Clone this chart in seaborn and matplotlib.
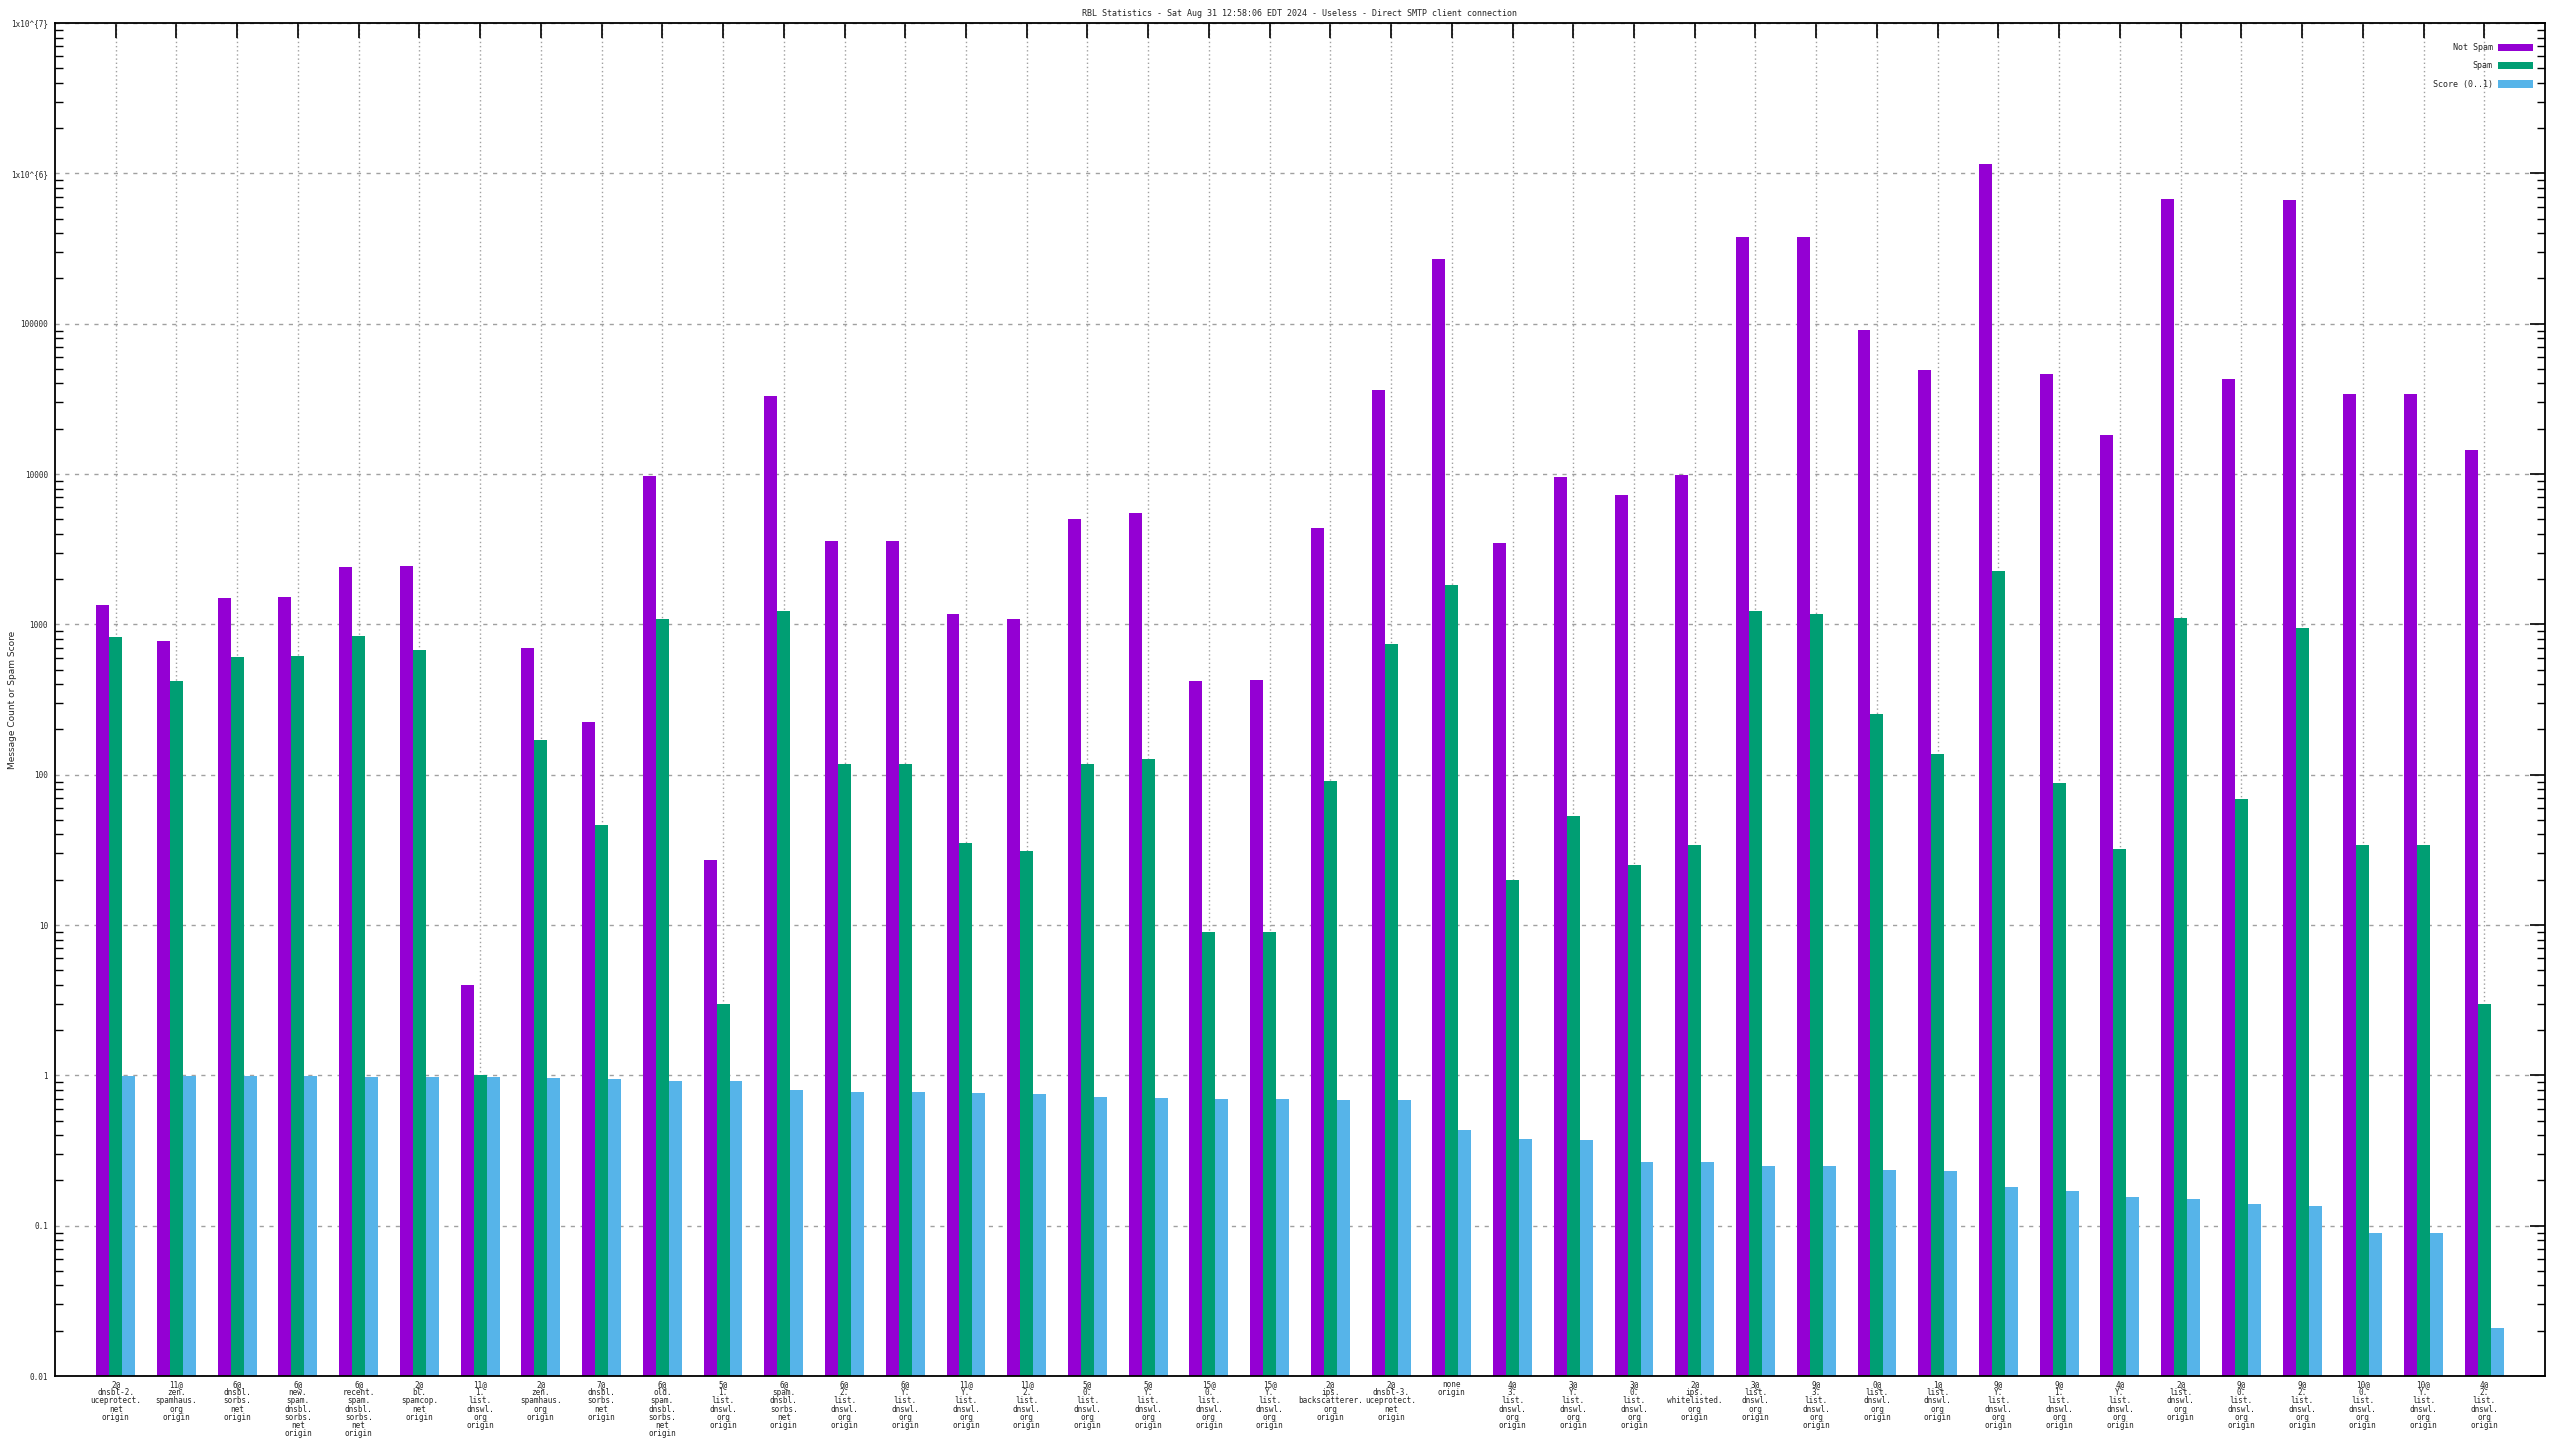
import numpy as np
import pandas as pd
import matplotlib
matplotlib.use("Agg")
import matplotlib.pyplot as plt
import seaborn as sns
from matplotlib.ticker import FixedLocator, LogLocator, NullFormatter

# ---------------- data ----------------
categories = [
    "2@\ndnsbl-2.\nuceprotect.\nnet\norigin",
    "11@\nzen.\nspamhaus.\norg\norigin",
    "6@\ndnsbl.\nsorbs.\nnet\norigin",
    "6@\nnew.\nspam.\ndnsbl.\nsorbs.\nnet\norigin",
    "6@\nrecent.\nspam.\ndnsbl.\nsorbs.\nnet\norigin",
    "2@\nbl.\nspamcop.\nnet\norigin",
    "11@\n1.\nlist.\ndnswl.\norg\norigin",
    "2@\nzen.\nspamhaus.\norg\norigin",
    "7@\ndnsbl.\nsorbs.\nnet\norigin",
    "6@\nold.\nspam.\ndnsbl.\nsorbs.\nnet\norigin",
    "5@\n1.\nlist.\ndnswl.\norg\norigin",
    "6@\nspam.\ndnsbl.\nsorbs.\nnet\norigin",
    "6@\n2.\nlist.\ndnswl.\norg\norigin",
    "6@\nY.\nlist.\ndnswl.\norg\norigin",
    "11@\nY.\nlist.\ndnswl.\norg\norigin",
    "11@\n2.\nlist.\ndnswl.\norg\norigin",
    "5@\n0.\nlist.\ndnswl.\norg\norigin",
    "5@\nY.\nlist.\ndnswl.\norg\norigin",
    "15@\n0.\nlist.\ndnswl.\norg\norigin",
    "15@\nY.\nlist.\ndnswl.\norg\norigin",
    "2@\nips.\nbackscatterer.\norg\norigin",
    "2@\ndnsbl-3.\nuceprotect.\nnet\norigin",
    "none\norigin",
    "4@\n3.\nlist.\ndnswl.\norg\norigin",
    "3@\nY.\nlist.\ndnswl.\norg\norigin",
    "3@\n0.\nlist.\ndnswl.\norg\norigin",
    "2@\nips.\nwhitelisted.\norg\norigin",
    "3@\nlist.\ndnswl.\norg\norigin",
    "9@\n3.\nlist.\ndnswl.\norg\norigin",
    "0@\nlist.\ndnswl.\norg\norigin",
    "1@\nlist.\ndnswl.\norg\norigin",
    "9@\nY.\nlist.\ndnswl.\norg\norigin",
    "9@\n1.\nlist.\ndnswl.\norg\norigin",
    "4@\nY.\nlist.\ndnswl.\norg\norigin",
    "2@\nlist.\ndnswl.\norg\norigin",
    "9@\n0.\nlist.\ndnswl.\norg\norigin",
    "9@\n2.\nlist.\ndnswl.\norg\norigin",
    "10@\n0.\nlist.\ndnswl.\norg\norigin",
    "10@\nY.\nlist.\ndnswl.\norg\norigin",
    "4@\n2.\nlist.\ndnswl.\norg\norigin",
]

not_spam = [1350, 780, 1500, 1530, 2400, 2450, 4, 700, 225, 9700,
            27, 33000, 3600, 3600, 1170, 1080, 5000, 5500, 420, 425,
            4400, 36000, 270000, 3500, 9600, 7300, 9900, 380000, 375000, 91000,
            49000, 1150000, 46000, 18300, 670000, 43000, 660000, 34000, 34000, 14500]

spam = [820, 420, 610, 620, 840, 670, 1.0, 170, 46, 1090,
        3.0, 1230, 118, 118, 35, 31, 118, 127, 9, 9,
        91, 740, 1830, 20, 53, 25, 34, 1220, 1170, 255,
        137, 2270, 88, 32, 1100, 69, 950, 34, 34, 3.0]

score = [0.99, 0.99, 0.99, 0.99, 0.98, 0.97, 0.97, 0.96, 0.95, 0.92,
         0.92, 0.80, 0.77, 0.77, 0.76, 0.75, 0.72, 0.71, 0.70, 0.70,
         0.69, 0.69, 0.43, 0.38, 0.37, 0.265, 0.265, 0.25, 0.25, 0.235,
         0.23, 0.18, 0.17, 0.155, 0.15, 0.14, 0.135, 0.09, 0.09, 0.021]

series_names = ["Not Spam", "Spam", "Score (0..1)"]
series_colors = ["#9400d3", "#009e73", "#56b4e9"]

y_tick_values = [0.01, 0.1, 1, 10, 100, 1000, 10000, 100000, 1e6, 1e7]
y_tick_labels = ["0.01", "0.1", "1", "10", "100", "1000", "10000", "100000",
                 "1x10^{6}", "1x10^{7}"]

title_text = "RBL Statistics - Sat Aug 31 12:58:06 EDT 2024 - Useless - Direct SMTP client connection"
ylabel_text = "Message Count or Spam Score"

# ---------------- frame ----------------
rows = []
for name, vals in zip(series_names, [not_spam, spam, score]):
    for cat, v in zip(categories, vals):
        rows.append({"label": cat, "series": name, "value": v})
df = pd.DataFrame(rows)

sns.set_theme(style="white")
plt.rcParams['font.family'] = ['DejaVu Sans Mono', 'DejaVu Sans']

W, H = 2560, 1440
fig = plt.figure(figsize=(W / 100, H / 100), dpi=100)
fig.patch.set_facecolor("white")
ax = fig.add_axes([55 / W, 1 - 1376 / H, 2490 / W, (1376 - 23) / H])

sns.barplot(data=df, x="label", y="value", hue="series", order=categories,
            hue_order=series_names, palette=series_colors, width=0.64,
            errorbar=None, log_scale=True, saturation=1, linewidth=0,
            ax=ax)

ax.set_yscale("log")
ax.set_ylim(0.01, 1e7)
ax.set_xlim(-1.0, 40.0)

ax.yaxis.set_major_locator(FixedLocator(y_tick_values))
ax.set_yticklabels(y_tick_labels)
ax.yaxis.set_minor_locator(LogLocator(base=10, subs=np.arange(2, 10)))
ax.yaxis.set_minor_formatter(NullFormatter())

ax.set_xlabel("")
ax.set_ylabel("")

ax.tick_params(axis="both", which="major", direction="in", length=11, width=1.2,
               labelsize=5.5, top=True, right=True, color="black")
ax.tick_params(axis="x", which="major", pad=3)
ax.tick_params(axis="y", which="minor", direction="in", length=5.5, width=1.0,
               right=True, left=True, color="black")
ax.tick_params(axis="y", which="major", pad=5)
for t in ax.get_xticklabels():
    t.set_linespacing(0.88)

ax.set_axisbelow(True)
ax.yaxis.grid(True, which="major", linestyle=(0, (3, 4)), color="#a0a0a0", lw=1.0)
ax.xaxis.grid(True, which="major", linestyle=(0, (1, 2)), color="#a0a0a0", lw=1.0)

for s in ax.spines.values():
    s.set_linewidth(1.3)
    s.set_color("black")

handles, labels = ax.get_legend_handles_labels()
ax.legend(handles, labels, loc="upper right",
          bbox_to_anchor=(2536 / W, 1 - 40 / H), bbox_transform=fig.transFigure,
          frameon=False, markerfirst=False, fontsize=6, handlelength=4.2,
          handleheight=1.0, labelspacing=1.1, handletextpad=0.6, borderaxespad=0)

fig.text(1300 / W, 1 - 13 / H, title_text, ha="center", va="center", fontsize=6)
fig.text(13 / W, 1 - 700 / H, ylabel_text, ha="center", va="center",
         rotation=90, fontsize=6.5, family="DejaVu Sans")

fig.savefig("out.png", dpi=100, facecolor="white")
